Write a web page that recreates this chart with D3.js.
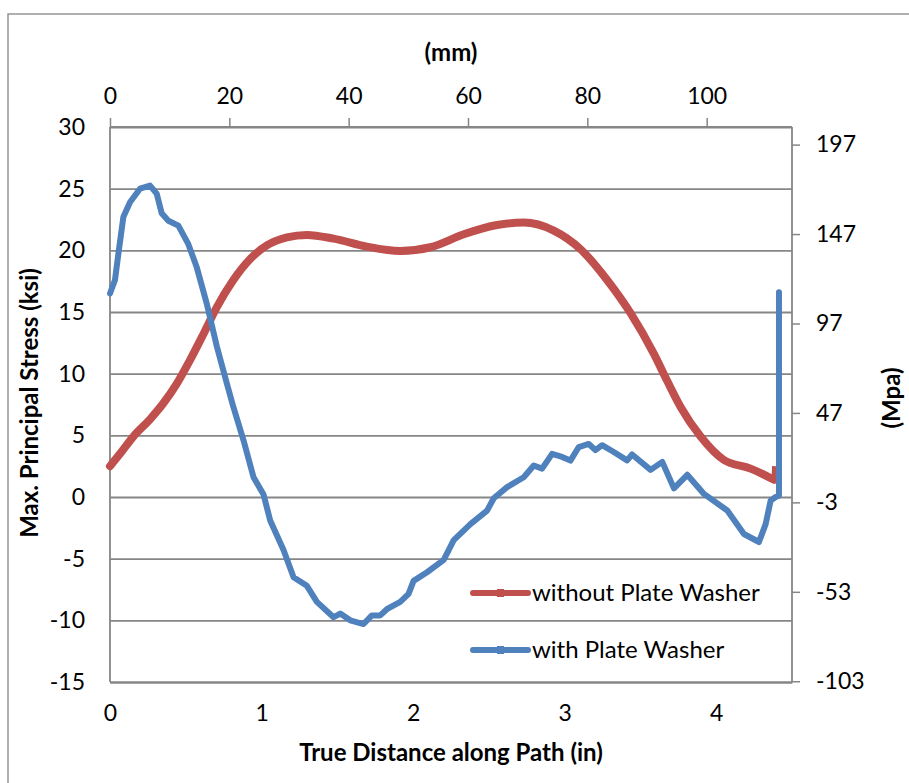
<!DOCTYPE html>
<html>
<head>
<meta charset="utf-8">
<script src="https://cdn.jsdelivr.net/npm/d3@7"></script>
<style>
  html, body { margin: 0; padding: 0; background: #fff; }
  svg { display: block; }
  text { font-family: Lato, "Noto Sans", sans-serif; fill: #000; }
</style>
</head>
<body>
<svg id="chart" width="909" height="783"></svg>
<script>
// ---- data ----
const distanceRed = [0, 0.066, 0.154, 0.264, 0.352, 0.441, 0.528, 0.616, 0.705, 0.814, 0.925, 1.035, 1.167, 1.299, 1.475, 1.695, 1.915, 2.114, 2.334, 2.554, 2.73, 2.928, 3.104, 3.28, 3.435, 3.589, 3.677, 3.765, 3.897, 4.051, 4.227, 4.381, 4.385];
const stressRed   = [2.5, 3.5, 4.9, 6.3, 7.6, 9.2, 11.1, 13.2, 15.4, 17.6, 19.3, 20.4, 21.05, 21.25, 20.95, 20.3, 19.95, 20.25, 21.3, 22.05, 22.25, 21.6, 20.1, 17.6, 14.9, 11.6, 9.4, 7.3, 4.9, 3.0, 2.3, 1.4, 2.5];

const distanceBlue = [0, 0.033, 0.055, 0.088, 0.132, 0.198, 0.264, 0.308, 0.341, 0.385, 0.451, 0.517, 0.573, 0.638, 0.705, 0.771, 0.814, 0.881, 0.947, 1.013, 1.057, 1.145, 1.211, 1.299, 1.365, 1.475, 1.519, 1.585, 1.673, 1.728, 1.783, 1.827, 1.915, 1.97, 2.003, 2.092, 2.202, 2.268, 2.378, 2.488, 2.532, 2.62, 2.73, 2.796, 2.851, 2.917, 2.983, 3.038, 3.093, 3.159, 3.203, 3.247, 3.324, 3.412, 3.445, 3.567, 3.644, 3.721, 3.809, 3.919, 4.073, 4.183, 4.282, 4.326, 4.359, 4.392, 4.414, 4.414];
const stressBlue   = [16.5, 17.6, 19.7, 22.7, 23.9, 25.0, 25.25, 24.6, 23.0, 22.4, 22.0, 20.5, 18.6, 15.7, 12.2, 9.2, 7.3, 4.6, 1.6, 0.2, -1.9, -4.3, -6.5, -7.2, -8.5, -9.75, -9.45, -10.0, -10.3, -9.6, -9.6, -9.1, -8.5, -7.85, -6.8, -6.1, -5.1, -3.5, -2.2, -1.1, -0.1, 0.8, 1.6, 2.55, 2.3, 3.5, 3.25, 2.95, 4.05, 4.3, 3.8, 4.2, 3.65, 2.97, 3.45, 2.2, 2.85, 0.7, 1.8, 0.25, -1.1, -3.0, -3.65, -2.2, -0.3, 0.0, 0.1, 16.6];

const seriesNames = ["without Plate Washer", "with Plate Washer"];
const seriesColors = ["#C0504D", "#4F81BD"];

const ksiTicks = [-15, -10, -5, 0, 5, 10, 15, 20, 25, 30];
const inchTicks = [0, 1, 2, 3, 4];
const mmTicks = [0, 20, 40, 60, 80, 100];
const mpaTicks = [-103, -53, -3, 47, 97, 147, 197];

const KSI_TO_MPA = 6.894757;
const MM_PER_IN = 25.4;

// hyphen-minus formatting as in the original
const fmt = d => String(Math.round(d));

// ---- layout ----
const svg = d3.select("#chart");
const L = 110, R = 792, T = 127, B = 682;
const gridColor = "#868686";
const tickFont = 23;
const titleFont = 24;

// outer frame
svg.append("rect").attr("x", 8).attr("y", 14).attr("width", 960).attr("height", 900)
  .attr("fill", "none").attr("stroke", gridColor).attr("stroke-width", 1.3);

const x = d3.scaleLinear().domain([0, 4.5]).range([L, R]);
const y = d3.scaleLinear().domain([-15, 30]).range([B, T]);
const xmm = d3.scaleLinear().domain([0, 4.5 * MM_PER_IN]).range([L, R]);
const ympa = d3.scaleLinear().domain([-15 * KSI_TO_MPA, 30 * KSI_TO_MPA]).range([B, T]);

// gridlines
const grid = svg.append("g").attr("transform", `translate(${L},0)`)
  .call(d3.axisLeft(y).tickValues(ksiTicks).tickSize(-(R - L)).tickFormat(""));
grid.select(".domain").remove();
grid.selectAll("line").attr("stroke", gridColor).attr("stroke-width", 1.8);

// plot frame lines
svg.append("line").attr("x1", L).attr("x2", L).attr("y1", T).attr("y2", B).attr("stroke", gridColor).attr("stroke-width", 1.8);
svg.append("line").attr("x1", R).attr("x2", R).attr("y1", T).attr("y2", B).attr("stroke", gridColor).attr("stroke-width", 1.8);

// left axis
const gL = svg.append("g").attr("transform", `translate(${L},0)`)
  .call(d3.axisLeft(y).tickValues(ksiTicks).tickSize(0).tickPadding(25).tickFormat(fmt));
gL.select(".domain").remove();
gL.selectAll("text").attr("font-size", tickFont).style("font-family", "Lato");

// bottom axis
const gB = svg.append("g").attr("transform", `translate(0,${B})`)
  .call(d3.axisBottom(x).tickValues(inchTicks).tickSize(0).tickPadding(23).tickFormat(fmt));
gB.select(".domain").attr("stroke", gridColor).attr("stroke-width", 1.8);
gB.selectAll("text").attr("font-size", tickFont).style("font-family", "Lato");

// top axis (mm)
const gT = svg.append("g").attr("transform", `translate(0,${T})`)
  .call(d3.axisTop(xmm).tickValues(mmTicks).tickSize(9).tickPadding(14).tickFormat(fmt));
gT.select(".domain").attr("stroke", gridColor).attr("stroke-width", 1.8).attr("d", `M${L},0H${R}`);
gT.selectAll("line").attr("stroke", gridColor).attr("stroke-width", 1.5);
gT.selectAll("text").attr("font-size", tickFont).style("font-family", "Lato");

// right axis (MPa)
const gR = svg.append("g").attr("transform", `translate(${R},0)`)
  .call(d3.axisRight(ympa).tickValues(mpaTicks).tickSize(8).tickPadding(16).tickFormat(fmt));
gR.select(".domain").remove();
gR.selectAll("line").attr("stroke", gridColor).attr("stroke-width", 1.5);
gR.selectAll("text").attr("font-size", tickFont).style("font-family", "Lato");

// axis titles
svg.append("text").attr("x", 451).attr("y", 61).attr("text-anchor", "middle")
  .attr("font-size", titleFont).attr("font-weight", "bold").text("(mm)");
svg.append("text").attr("x", 451).attr("y", 761).attr("text-anchor", "middle")
  .attr("font-size", titleFont).attr("font-weight", "bold").text("True Distance along Path (in)");
svg.append("text").attr("transform", "translate(38,403) rotate(-90)").attr("text-anchor", "middle")
  .attr("font-size", titleFont).attr("font-weight", "bold").text("Max. Principal Stress (ksi)");
svg.append("text").attr("transform", "translate(900,398) rotate(-90)").attr("text-anchor", "middle")
  .attr("font-size", titleFont).attr("font-weight", "bold").text("(Mpa)");

// series
const redData = distanceRed.map((d, i) => [d, stressRed[i]]);
const blueData = distanceBlue.map((d, i) => [d, stressBlue[i]]);

const lineSmooth = d3.line().x(d => x(d[0])).y(d => y(d[1])).curve(d3.curveMonotoneX);
const lineStraight = d3.line().x(d => x(d[0])).y(d => y(d[1]));

svg.append("path").datum(redData.slice(0, -1)).attr("d", lineSmooth)
  .attr("fill", "none").attr("stroke", seriesColors[0]).attr("stroke-width", 8)
  .attr("stroke-linejoin", "round").attr("stroke-linecap", "round");
svg.append("path").datum(redData.slice(-2)).attr("d", lineStraight)
  .attr("fill", "none").attr("stroke", seriesColors[0]).attr("stroke-width", 5)
  .attr("stroke-linecap", "butt");

svg.append("path").datum(blueData).attr("d", lineStraight)
  .attr("fill", "none").attr("stroke", seriesColors[1]).attr("stroke-width", 6)
  .attr("stroke-linejoin", "round").attr("stroke-linecap", "round");

// legend
const legend = svg.append("g");
[593, 650].forEach((ly, i) => {
  legend.append("line").attr("x1", 473).attr("x2", 528).attr("y1", ly).attr("y2", ly)
    .attr("stroke", seriesColors[i]).attr("stroke-width", 6).attr("stroke-linecap", "round");
  legend.append("rect").attr("x", 497).attr("y", ly - 4).attr("width", 7).attr("height", 8)
    .attr("fill", seriesColors[i]);
  legend.append("text").attr("x", 532).attr("y", ly + 8).attr("font-size", 24).text(seriesNames[i]);
});
</script>
</body>
</html>
